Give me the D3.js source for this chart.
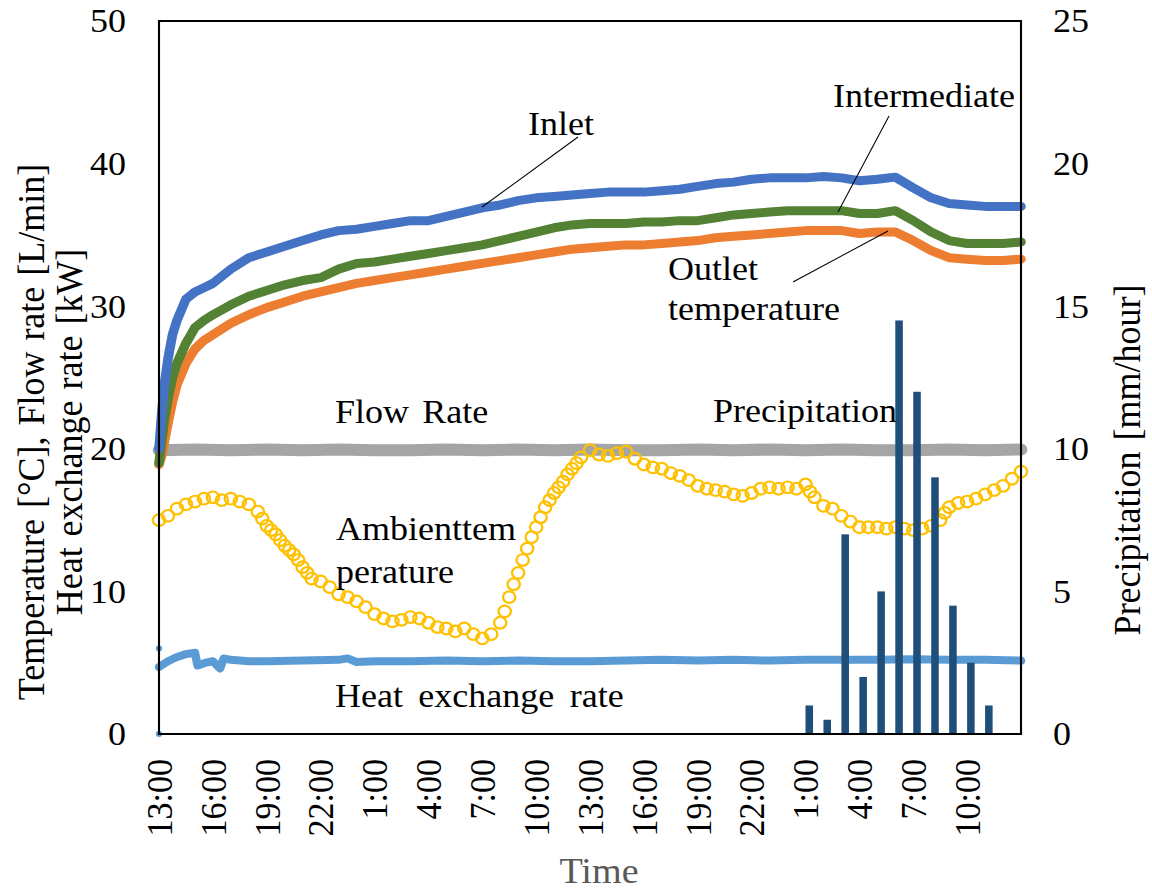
<!DOCTYPE html>
<html><head><meta charset="utf-8">
<script src="https://cdn.jsdelivr.net/npm/d3@7"></script>
<style>body{margin:0;background:#fff} svg{display:block}</style>
</head><body><svg id="c" width="1152" height="894"></svg>
<script>
// ---- data (hours after 13:00 on day 1) ----
const hoursT = [0,0.15,0.3,0.5,0.75,1,1.5,2,2.5,3,4,5,6,7,8,9,10,11,12,13,14,15,16,17,18,19,20,21,22,23,24,25,26,27,28,29,30,31,32,33,34,35,36,37,38,39,40,41,42,43,44,45,46,47,48];
const inletT = [20.0,22.5,24.5,26.3,28.0,29.0,30.5,31.0,31.3,31.6,32.6,33.4,33.8,34.2,34.6,35.0,35.3,35.4,35.6,35.8,36.0,36.0,36.3,36.6,36.9,37.1,37.4,37.6,37.7,37.8,37.9,38.0,38.0,38.0,38.1,38.2,38.4,38.6,38.7,38.9,39.0,39.0,39.0,39.1,39.0,38.8,38.9,39.05,38.3,37.6,37.2,37.1,37.0,37.0,37.0];
const interT = [19.0,20.5,22.0,23.5,25.0,26.0,27.4,28.5,29.0,29.4,30.1,30.7,31.1,31.5,31.8,32.0,32.6,33.0,33.1,33.3,33.5,33.7,33.9,34.1,34.3,34.6,34.9,35.2,35.5,35.7,35.8,35.8,35.8,35.9,35.9,36.0,36.0,36.2,36.4,36.5,36.6,36.7,36.7,36.7,36.7,36.5,36.5,36.7,36.0,35.2,34.6,34.4,34.4,34.4,34.5];
const outletT = [18.9,19.5,20.5,21.8,23.3,24.5,26.0,27.0,27.6,28.0,28.8,29.4,29.9,30.3,30.7,31.0,31.3,31.6,31.8,32.0,32.2,32.4,32.6,32.8,33.0,33.2,33.4,33.6,33.8,34.0,34.1,34.2,34.3,34.3,34.4,34.5,34.6,34.8,34.9,35.0,35.1,35.2,35.3,35.3,35.3,35.1,35.2,35.2,34.6,33.9,33.4,33.3,33.2,33.2,33.3];

const hoursFlow = [0,2,4,6,8,10,12,14,16,18,20,22,24,26,28,30,32,34,36,38,40,42,44,46,48];
const flowRate = [19.9,19.95,19.9,19.95,19.9,19.95,19.9,19.9,19.95,19.9,19.95,19.9,19.95,19.9,19.9,19.95,19.9,19.95,19.9,19.95,19.9,19.9,19.95,19.9,19.95];

const hoursAmb = d3.range(0, 48.01, 0.5);
const ambient = [15.0,15.3,15.8,16.1,16.3,16.5,16.6,16.4,16.5,16.3,16.1,15.6,14.6,14.0,13.2,12.6,11.7,10.9,10.7,10.3,9.8,9.6,9.3,8.9,8.4,8.1,7.9,8.0,8.2,8.1,7.8,7.5,7.4,7.2,7.4,7.0,6.7,7.0,7.8,9.6,11.3,13.0,14.5,15.9,16.9,17.7,18.6,19.4,19.9,19.6,19.5,19.7,19.8,19.3,18.9,18.7,18.6,18.3,18.1,17.8,17.4,17.2,17.1,17.0,16.8,16.7,16.9,17.2,17.3,17.2,17.3,17.2,17.5,16.6,16.0,15.8,15.3,14.9,14.5,14.5,14.5,14.4,14.5,14.4,14.3,14.4,14.6,15.0,15.9,16.2,16.3,16.5,16.8,17.1,17.4,17.9,18.4];
// extra readings where the ambient curve is steep
const hoursAmbExtra = [5.75,6.25,6.75,7.25,7.75,8.25,19.25,19.75,20.25,20.75,21.25,21.75,22.25,22.75,23.25,36.25,43.75];
const ambientExtra = [15.1,14.3,13.6,12.9,12.2,11.3,8.6,10.5,12.2,13.8,15.2,16.4,17.3,18.2,19.0,17.0,15.5];

const hoursHeat = [0,0.5,1,1.5,2,2.15,2.6,3,3.4,3.6,4,5,6,8,10,10.5,11,12,14,16,18,20,22,24,26,28,30,32,34,36,38,40,42,44,46,48];
const heatRate = [4.7,5.1,5.4,5.6,5.7,4.8,5.0,5.1,4.6,5.3,5.2,5.1,5.1,5.15,5.2,5.3,5.05,5.1,5.1,5.15,5.1,5.15,5.1,5.1,5.15,5.2,5.15,5.2,5.15,5.2,5.2,5.2,5.25,5.2,5.2,5.15];

const precipHours = [36,37,38,39,40,41,42,43,44,45,46];
const precip = [1.0,0.5,7.0,2.0,5.0,14.5,12.0,9.0,4.5,2.5,1.0];

const xTickHours = d3.range(0, 46, 3);
const leftTicks = [0,10,20,30,40,50];
const rightTicks = [0,5,10,15,20,25];

// ---- drawing ----
const SX = 1.06;
const FONT = "'Liberation Serif','Times New Roman',serif";
const svg = d3.select("#c");
const g = svg.append("g").attr("transform", `scale(${SX},1)`);
const px = v => v / SX;
const L = px(159), R = px(1021), T = 21, B = 734;

const x = d3.scaleLinear().domain([0,48]).range([L,R]);
const yL = d3.scaleLinear().domain([0,50]).range([B,T]);
const yR = d3.scaleLinear().domain([0,25]).range([B,T]);

const line = (hs, vs, yS) => d3.line().x((d,i)=>x(hs[i])).y((d,i)=>yS(vs[i]))(vs);

// flow rate
g.append("path").attr("d", line(hoursFlow, flowRate, yL))
  .attr("fill","none").attr("stroke","#A5A5A5").attr("stroke-width",12).attr("stroke-linecap","round");

// ambient temperature circles
const ambPts = ambient.map((v,i)=>[hoursAmb[i],v]).concat(ambientExtra.map((v,i)=>[hoursAmbExtra[i],v]));
g.append("g").selectAll("circle").data(ambPts).join("circle")
  .attr("cx",d=>x(d[0])).attr("cy",d=>yL(d[1])).attr("r",5.8)
  .attr("fill","none").attr("stroke","#FFC000").attr("stroke-width",2.2);

// heat exchange rate
g.append("path").attr("d", line(hoursHeat, heatRate, yL))
  .attr("fill","none").attr("stroke","#5B9BD5").attr("stroke-width",8).attr("stroke-linejoin","round").attr("stroke-linecap","round");
g.append("g").selectAll("circle").data([0,6]).join("circle")
  .attr("cx",x(0)).attr("cy",d=>yL(d)).attr("r",3).attr("fill","#5B9BD5");

// temperature lines
[[outletT,"#ED7D31"],[interT,"#548235"],[inletT,"#4472C4"]].forEach(([vs,c])=>{
  g.append("path").attr("d", line(hoursT, vs, yL))
    .attr("fill","none").attr("stroke",c).attr("stroke-width",9)
    .attr("stroke-linejoin","round").attr("stroke-linecap","round");
});

// precipitation bars
g.append("g").selectAll("rect").data(precip).join("rect")
  .attr("x",(d,i)=>x(precipHours[i])).attr("width",(d,i)=>x(precipHours[i]+0.42)-x(precipHours[i]))
  .attr("y",d=>yR(d)).attr("height",d=>B-yR(d)).attr("fill","#1F4E79");

// frame
g.append("rect").attr("x",L).attr("y",T).attr("width",R-L).attr("height",B-T)
  .attr("fill","none").attr("stroke","#000").attr("stroke-width",2);

// axes
const styleAxis = sel => { sel.select(".domain").remove(); sel.selectAll("text").attr("font-family",FONT).attr("font-size",34).attr("fill","#000"); };
g.append("g").attr("transform",`translate(${L},0)`)
  .call(d3.axisLeft(yL).tickValues(leftTicks).tickSize(0).tickPadding(px(33)).tickFormat(d3.format("d")))
  .call(styleAxis);
g.append("g").attr("transform",`translate(${R},0)`)
  .call(d3.axisRight(yR).tickValues(rightTicks).tickSize(0).tickPadding(px(32)).tickFormat(d3.format("d")))
  .call(styleAxis);
const xa = g.append("g").attr("transform",`translate(0,${B})`)
  .call(d3.axisBottom(x).tickValues(xTickHours).tickSize(0).tickFormat(h => ((13+h)%24)+":00"))
  .call(styleAxis);
xa.selectAll("text").attr("transform","rotate(-90)").attr("x",-25).attr("y",0).attr("dy","0.34em").attr("text-anchor","end");

// axis titles
const txt = (s, xx, yy, opts={}) => g.append("text").text(s).attr("x",px(xx)).attr("y",yy)
  .attr("font-family",FONT).attr("font-size",opts.size||34).attr("fill",opts.fill||"#000")
  .attr("text-anchor",opts.anchor||"start").attr("word-spacing",opts.ws||0);
const rtxt = (s, xx, yy) => g.append("text").text(s)
  .attr("transform",`translate(${px(xx)},${yy}) rotate(-90)`)
  .attr("font-family",FONT).attr("font-size",36).attr("text-anchor","middle").attr("word-spacing",2);
rtxt("Temperature [°C], Flow rate [L/min]", 44, 432);
rtxt("Heat exchange rate [kW]", 82, 432);
rtxt("Precipitation [mm/hour]", 1140, 460);
txt("Time", 599, 883, {size:36, fill:"#595959", anchor:"middle"});

// annotations
txt("Inlet", 528, 135);
txt("Intermediate", 833, 107);
txt("Outlet", 668, 280);
txt("temperature", 668, 320);
txt("Flow Rate", 335, 423, {ws:4});
txt("Precipitation", 897, 422, {anchor:"end"});
txt("Ambienttem", 336, 540);
txt("perature", 336, 583);
txt("Heat exchange rate", 335, 707, {ws:6});

const leaders = [[578,137,482,207],[889,116,838,212],[793,282,888,231]];
g.append("g").selectAll("line").data(leaders).join("line")
  .attr("x1",d=>px(d[0])).attr("y1",d=>d[1]).attr("x2",d=>px(d[2])).attr("y2",d=>d[3])
  .attr("stroke","#000").attr("stroke-width",1);
</script>
</body></html>
